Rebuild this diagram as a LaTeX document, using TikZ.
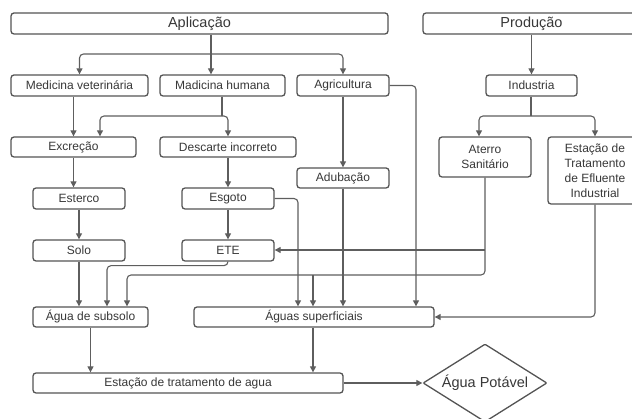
\documentclass[tikz,border=0pt]{standalone}
\usepackage{fontspec}
\setmainfont{Liberation Sans}
\usetikzlibrary{arrows.meta,shapes.geometric}
\tikzset{
  flow box/.style={
    draw=boxgray,fill=white,rounded corners=3pt,line width=1.3pt,
    inner sep=0pt,text=textgray,align=center,
    font=\fontsize{12}{15}\selectfont,
  },
  flow head/.style={font=\fontsize{14.5}{17}\selectfont},
  flow line/.style={
    draw=linegray,line width=1.1pt,rounded corners=4pt,
  },
  flow arrow/.style={
    flow line,-{Triangle[length=6pt,width=6pt]},
  },
}

\begin{document}
\begin{tikzpicture}[x=1pt, y=-1pt]
% Defining colors
\definecolor{boxgray}{rgb}{0.33, 0.33, 0.33}
\definecolor{textgray}{rgb}{0.22, 0.22, 0.22}
\definecolor{linegray}{rgb}{0.37, 0.37, 0.37}

\useasboundingbox (0,0) rectangle (632,419);

% =:=:=:=:=:=:=:=:=:=:=:=:=:=:=:=:=:=:=
% Headers
% =:=:=:=:=:=:=:=:=:=:=:=:=:=:=:=:=:=:=
\node[flow box, flow head, minimum width=377, minimum height=21]
    (aplicacao) at (199.5, 23.5) {Aplicação};
\node[flow box, flow head, minimum width=217, minimum height=21]
    (producao) at (531.5, 23.5) {Produção};

% =:=:=:=:=:=:=:=:=:=:=:=:=:=:=:=:=:=:=
% Sources
% =:=:=:=:=:=:=:=:=:=:=:=:=:=:=:=:=:=:=
\node[flow box, minimum width=137, minimum height=21]
    (medvet) at (79.5, 85.5) {Medicina veterinária};
\node[flow box, minimum width=125, minimum height=21]
    (medhum) at (222.5, 85.5) {Madicina humana};
\node[flow box, minimum width=92, minimum height=21]
    (agri) at (343, 85.5) {Agricultura};
\node[flow box, minimum width=91, minimum height=21]
    (indus) at (531.5, 85.5) {Industria};

% =:=:=:=:=:=:=:=:=:=:=:=:=:=:=:=:=:=:=
% Pathways
% =:=:=:=:=:=:=:=:=:=:=:=:=:=:=:=:=:=:=
\node[flow box, minimum width=125, minimum height=20]
    (excr) at (73.5, 147) {Excreção};
\node[flow box, minimum width=136, minimum height=20]
    (desc) at (228, 147) {Descarte incorreto};
\node[flow box, minimum width=92, minimum height=40]
    (aterro) at (485, 157) {Aterro\\Sanitário};
\node[flow box, minimum width=94, minimum height=67]
    (efl) at (595, 170.5) {Estação de\\Tratamento\\de Efluente\\Industrial};
\node[flow box, minimum width=92, minimum height=20]
    (adub) at (343, 178) {Adubação};
\node[flow box, minimum width=92, minimum height=21]
    (ester) at (79, 198.5) {Esterco};
\node[flow box, minimum width=92, minimum height=21]
    (esgoto) at (228, 198.5) {Esgoto};
\node[flow box, minimum width=92, minimum height=21]
    (solo) at (79, 250.5) {Solo};
\node[flow box, minimum width=92, minimum height=21]
    (ete) at (228, 250.5) {ETE};

% =:=:=:=:=:=:=:=:=:=:=:=:=:=:=:=:=:=:=
% Water
% =:=:=:=:=:=:=:=:=:=:=:=:=:=:=:=:=:=:=
\node[flow box, minimum width=115, minimum height=20]
    (subs) at (90.5, 317) {Água de subsolo};
\node[flow box, minimum width=240, minimum height=20]
    (sup) at (314, 317) {Águas superficiais};
\node[flow box, minimum width=310, minimum height=20]
    (eta) at (188, 383) {Estação de tratamento de agua};
\node[flow box, flow head, shape=diamond, rounded corners=1pt,
      aspect=1.6, minimum width=124, minimum height=78]
    (potavel) at (485, 383) {Água Potável};

% =:=:=:=:=:=:=:=:=:=:=:=:=:=:=:=:=:=:=
% Connectors
% =:=:=:=:=:=:=:=:=:=:=:=:=:=:=:=:=:=:=
\coordinate (japl) at (211, 54);
\coordinate (jmed) at (222, 116);
\coordinate (jind) at (531, 116);
\coordinate (jete) at (485, 250);
\coordinate (jlow) at (485, 275);
\coordinate (jsup) at (313, 275);

% Aplicação
\draw[flow line] (aplicacao.south -| japl) -- (japl);
\draw[flow arrow] (japl) -| (medvet.north);
\draw[flow arrow] (japl) -- (medhum.north -| japl);
\draw[flow arrow] (japl) -| (agri.north);

% Medicina humana
\draw[flow line] (medhum.south -| jmed) -- (jmed);
\draw[flow arrow] (jmed) -| (excr.north -| 100,0);
\draw[flow arrow] (jmed) -| (desc.north);
\draw[flow arrow] (medvet.south -| excr) -- (excr.north);

% left columns
\draw[flow arrow] (excr.south) -- (excr.south |- ester.north);
\draw[flow arrow] (ester) -- (solo);
\draw[flow arrow] (solo) -- (solo.south |- subs.north);
\draw[flow arrow] (desc) -- (esgoto);
\draw[flow arrow] (esgoto) -- (ete);
\draw[flow arrow] (ete.south) -- ++(0,4) -| (subs.north -| 107,0);

% into Águas superficiais
\draw[flow arrow] (esgoto.east) -| (sup.north -| 298,0);
\draw[flow arrow] (adub) -- (adub |- sup.north);
\draw[flow arrow] (agri) -- (adub);
\draw[flow arrow] (agri.east) -| (sup.north -| 416,0);

% Produção
\draw[flow arrow] (producao.south -| indus) -- (indus);
\draw[flow line] (indus.south -| jind) -- (jind);
\draw[flow arrow] (jind) -| (aterro.north -| 479,0);
\draw[flow arrow] (jind) -| (efl.north);

% Aterro
\draw[flow arrow] (aterro.south) -- (jlow) -| (subs.north -| 127,0);
\draw[flow arrow] (jete) -- (ete.east |- jete);
\draw[flow arrow] (jsup) -- (sup.north -| jsup);
\draw[flow arrow] (efl.south) |- (sup.east);

% treatment
\draw[flow arrow] (subs) -- (subs |- eta.north);
\draw[flow arrow] (sup.south -| jsup) -- (eta.north -| jsup);
\draw[flow arrow] (eta) -- (potavel);

\end{tikzpicture}
\end{document}
